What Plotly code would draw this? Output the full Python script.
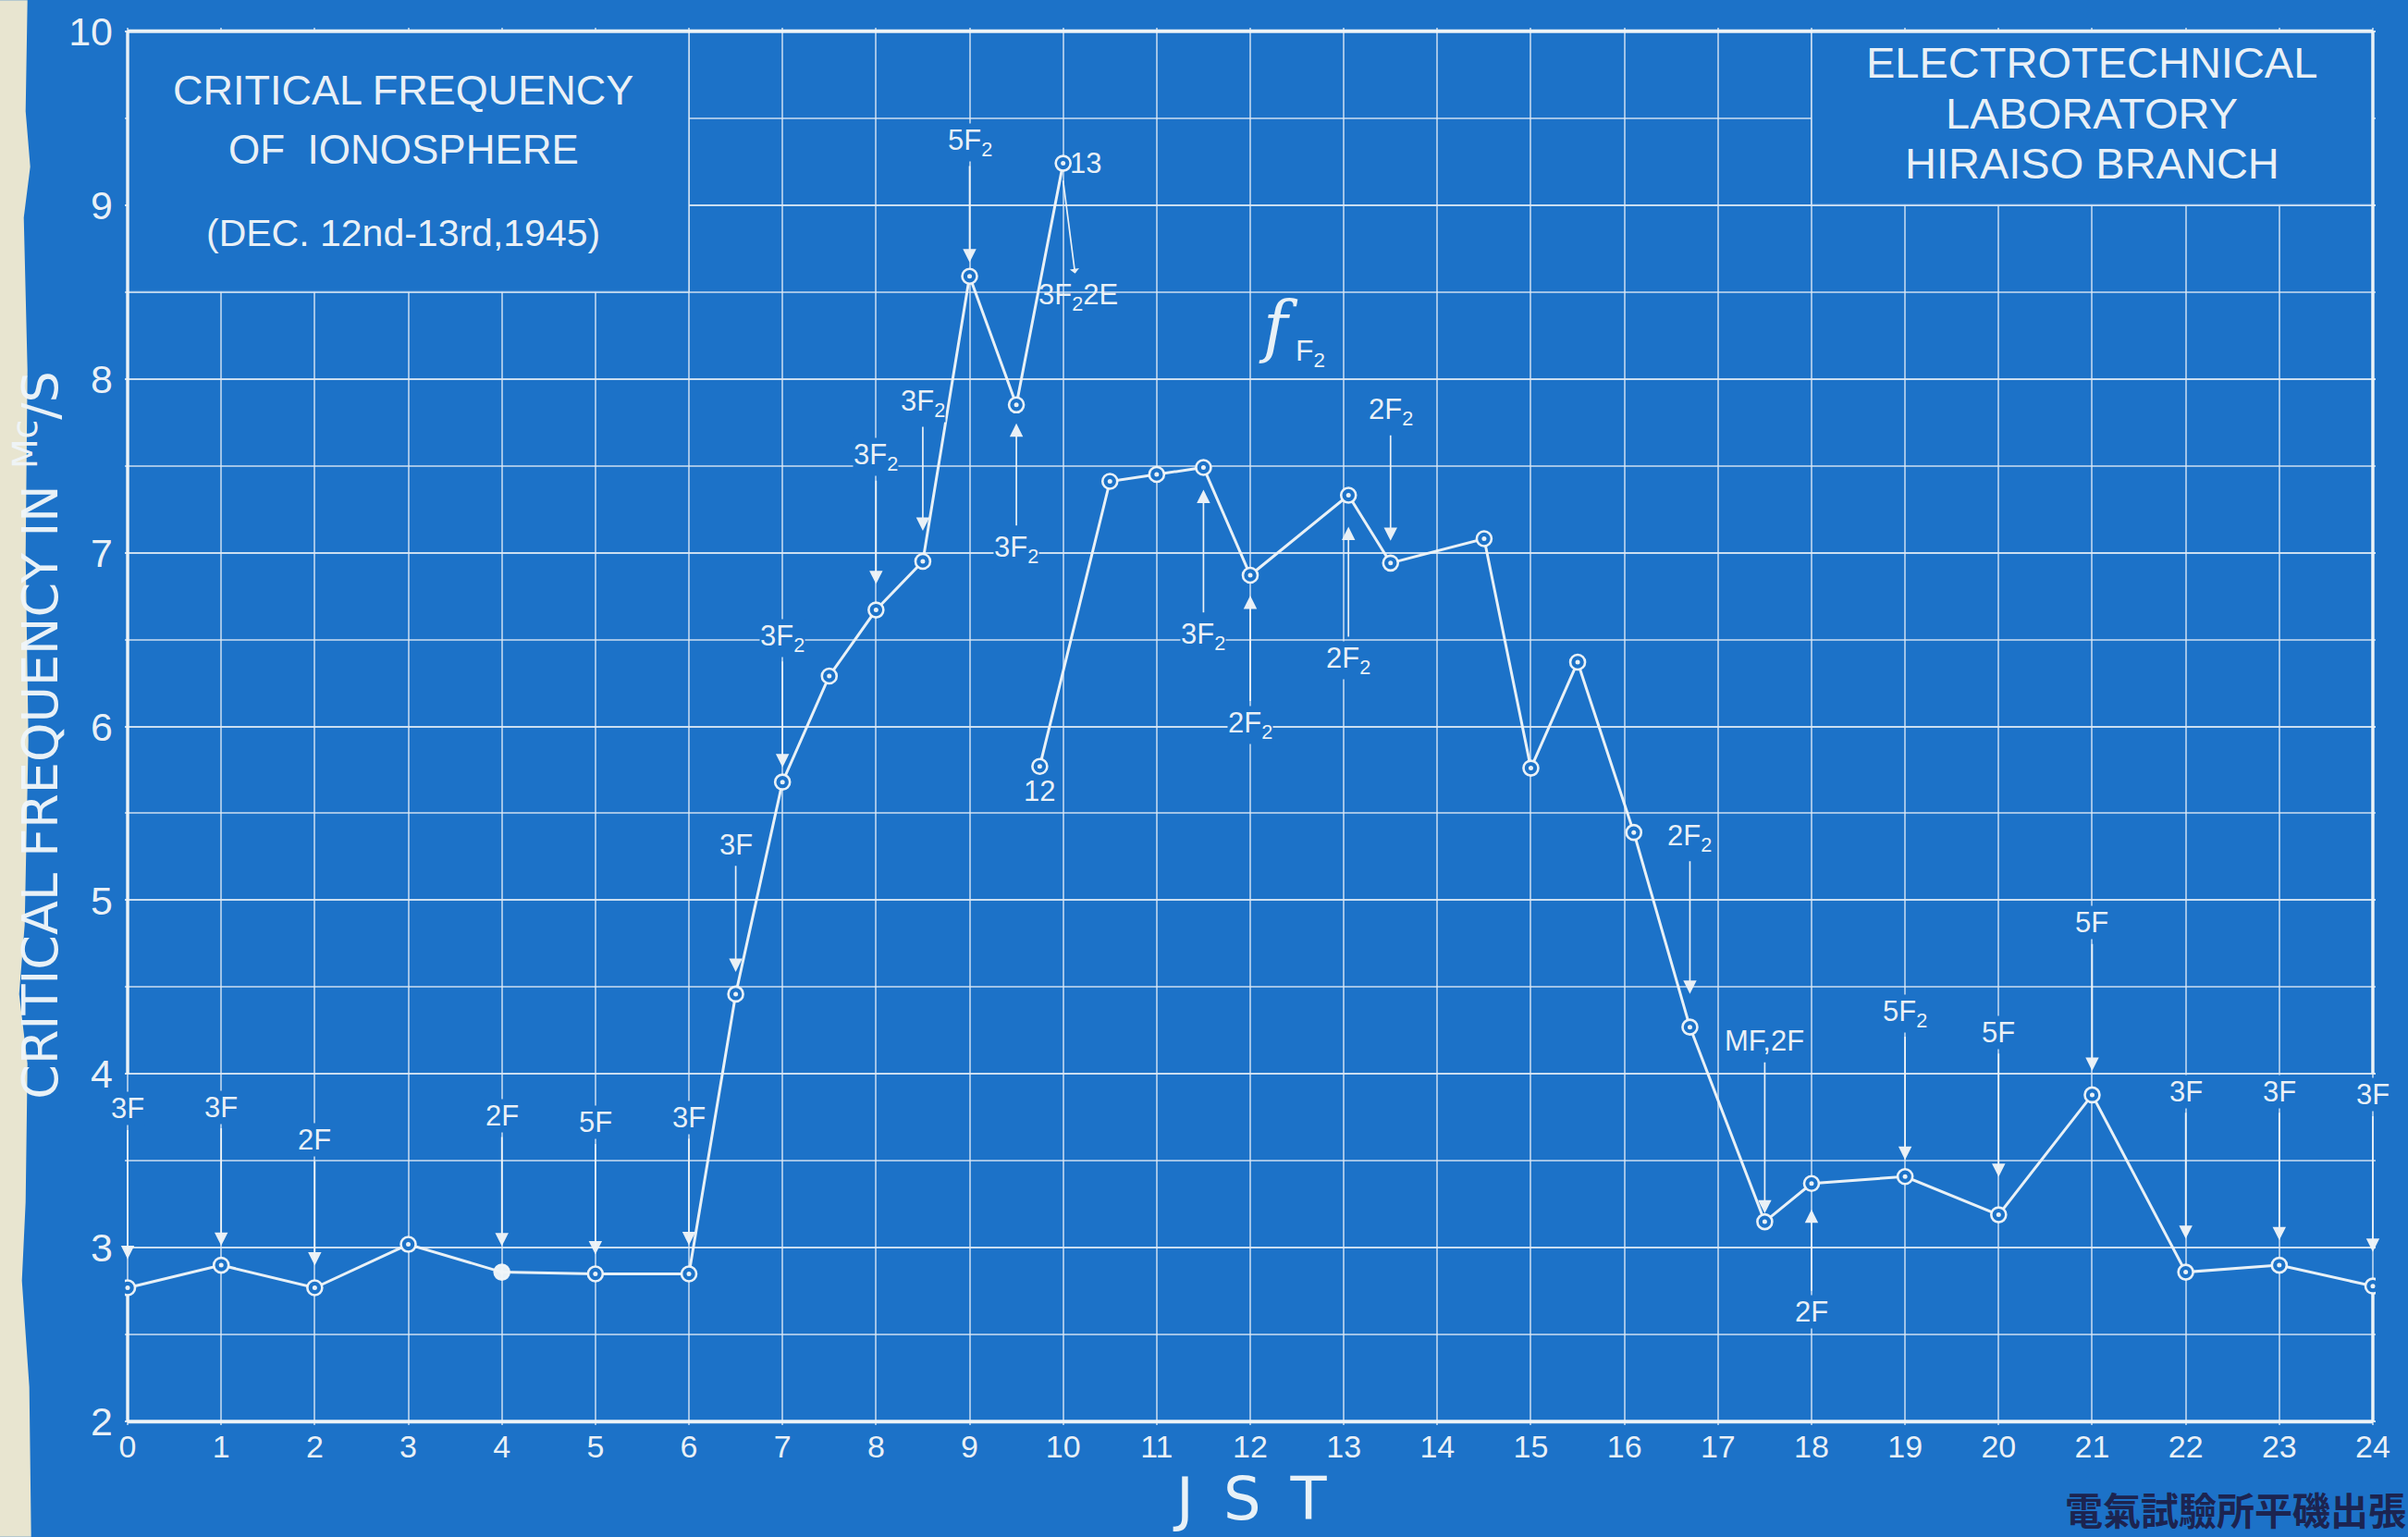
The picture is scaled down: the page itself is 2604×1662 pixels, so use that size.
import plotly.graph_objects as go

# ------------------------------------------------------------------ data
# Critical frequency of the F2 layer (Mc/s), Hiraiso, 12th December 1945
hours_12 = [0, 1, 2, 3, 4, 5, 6, 6.5, 7, 7.5, 8, 8.5, 9, 9.5, 10]
fof2_12 = [2.77, 2.90, 2.77, 3.02, 2.86, 2.85, 2.85, 4.46, 5.68, 6.29,
           6.67, 6.95, 8.59, 7.85, 9.24]

# 13th December 1945, starting at 09:45 JST
hours_13 = [9.75, 10.5, 11, 11.5, 12, 13.05, 13.5, 14.5, 15, 15.5, 16.1,
            16.7, 17.5, 18, 19, 20, 21, 22, 23, 24]
fof2_13 = [5.77, 7.41, 7.45, 7.49, 6.87, 7.33, 6.94, 7.08, 5.76, 6.37,
           5.39, 4.27, 3.15, 3.37, 3.41, 3.19, 3.88, 2.86, 2.90, 2.78]

# readings drawn as a solid dot instead of a ringed one
solid_hours_12 = [4]

x_ticks = list(range(0, 25))
y_ticks = list(range(2, 11))

# ionogram reading codes: (text, day, point index, label y, head standoff px)
codes = [
    ("3F", 12, 0, 3.80, 31),
    ("3F", 12, 1, 3.81, 21),
    ("2F", 12, 2, 3.62, 24),
    ("2F", 12, 4, 3.76, 28),
    ("5F", 12, 5, 3.72, 21),
    ("3F", 12, 6, 3.75, 31),
    ("3F", 12, 7, 5.32, 24),
    ("3F<sub>2</sub>", 12, 8, 6.51, 16),
    ("3F<sub>2</sub>", 12, 10, 7.55, 28),
    ("3F<sub>2</sub>", 12, 11, 7.86, 33),
    ("5F<sub>2</sub>", 12, 12, 9.36, 15),
    ("3F<sub>2</sub>", 12, 13, 7.02, 20),
    ("3F<sub>2</sub>", 13, 3, 6.52, 24),
    ("2F<sub>2</sub>", 13, 4, 6.01, 22),
    ("2F<sub>2</sub>", 13, 5, 6.38, 34),
    ("2F<sub>2</sub>", 13, 6, 7.81, 24),
    ("2F<sub>2</sub>", 13, 11, 5.36, 36),
    ("MF,2F", 13, 12, 4.19, 9),
    ("2F", 13, 13, 2.63, 28),
    ("5F<sub>2</sub>", 13, 14, 4.35, 18),
    ("5F", 13, 15, 4.24, 41),
    ("5F", 13, 16, 4.87, 26),
    ("3F", 13, 17, 3.90, 36),
    ("3F", 13, 18, 3.90, 27),
    ("3F", 13, 19, 3.88, 37),
]

# ------------------------------------------------------------------ style
W, H = 2604, 1662
BG = "#1c72c8"
INK = "rgba(240,245,248,0.97)"
GRID = "rgba(222,234,246,0.68)"
FRAME = "rgba(240,245,248,0.95)"
LETTER = "Liberation Sans, Arial, sans-serif"
WIDE = "DejaVu Sans, sans-serif"
LABEL_FONT = dict(family=LETTER, size=31, color=INK)

# frame placement on the sheet (pixels)
X0_PX, X24_PX, Y2_PX, Y10_PX = 138.3, 2565.6, 1537.5, 33.5
PADX, PADY = 0.03, 0.02
ux = (X24_PX - X0_PX) / 24
uy = (Y2_PX - Y10_PX) / 8
ML = X0_PX - PADX * ux
MR = W - (X24_PX + PADX * ux)
MT = Y10_PX - PADY * uy
MB = H - (Y2_PX + PADY * uy)
PW, PH = W - ML - MR, H - MT - MB


def paper_x(px):
    return (px - ML) / PW


def paper_y(py):
    return (H - MB - py) / PH


fig = go.Figure()

series = {12: (hours_12, fof2_12), 13: (hours_13, fof2_13)}
for day, (hx, fv) in series.items():
    fills = [INK if (day == 12 and h in solid_hours_12) else BG for h in hx]
    fig.add_trace(go.Scatter(
        x=hx, y=fv, mode="lines+markers",
        line=dict(color=INK, width=3),
        marker=dict(symbol="circle", size=16, color=fills,
                    line=dict(color=INK, width=2.6)),
        showlegend=False, hoverinfo="skip"))
    fig.add_trace(go.Scatter(
        x=hx, y=fv, mode="markers",
        marker=dict(symbol="circle", size=5, color=INK),
        showlegend=False, hoverinfo="skip"))

# ------------------------------------------------------------------ shapes
shapes = [
    # title panels are left free of the grid
    dict(type="rect", x0=0, x1=6, y0=8.5, y1=10, fillcolor=BG, line=dict(width=0)),
    dict(type="rect", x0=18, x1=24, y0=9, y1=10, fillcolor=BG, line=dict(width=0)),
    dict(type="line", x0=6, x1=6, y0=8.5, y1=10, line=dict(color=GRID, width=2)),
    dict(type="line", x0=0, x1=6, y0=8.5, y1=8.5, line=dict(color=GRID, width=2)),
    dict(type="line", x0=18, x1=18, y0=9, y1=10, line=dict(color=GRID, width=2)),
    dict(type="line", x0=18, x1=24, y0=9, y1=9, line=dict(color=GRID, width=2)),
    # frame
    dict(type="line", x0=0, x1=24, y0=10, y1=10, line=dict(color=FRAME, width=4)),
    dict(type="line", x0=0, x1=24, y0=2, y1=2, line=dict(color=FRAME, width=4)),
    dict(type="line", x0=0, x1=0, y0=4, y1=10, line=dict(color=FRAME, width=3.5)),
    dict(type="line", x0=0, x1=0, y0=2, y1=fof2_12[0], line=dict(color=FRAME, width=3.5)),
    dict(type="line", x0=24, x1=24, y0=4, y1=10, line=dict(color=FRAME, width=3.5)),
    dict(type="line", x0=24, x1=24, y0=2, y1=fof2_13[-1], line=dict(color=FRAME, width=3.5)),
]
for s in shapes:
    s.update(xref="x", yref="y", layer="between")

# torn paper margin on the left edge
edge = [(0, 0), (30, 0), (28, 120), (33, 180), (26, 235), (30, 400), (28, 600),
        (31, 800), (27, 1000), (21, 1075), (30, 1150), (28, 1300), (24, 1385),
        (32, 1500), (34, 1662), (0, 1662)]
path = "M " + " L ".join(f"{paper_x(px):.5f},{paper_y(py):.5f}" for px, py in edge) + " Z"
shapes.append(dict(type="path", path=path, xref="paper", yref="paper",
                   fillcolor="#e8e5d0", line=dict(width=0), layer="above"))

# ------------------------------------------------------------------ annotations
ann = []
for text, day, idx, ly, gap in codes:
    hx, fv = series[day]
    px, pv = hx[idx], fv[idx]
    ann.append(dict(x=px, y=pv, ax=px, ay=ly, axref="x", ayref="y",
                    xref="x", yref="y", text=text, showarrow=True,
                    arrowhead=2, arrowsize=1.7, arrowwidth=1.7,
                    arrowcolor=INK, standoff=gap, startstandoff=5,
                    font=LABEL_FONT, bgcolor=BG, borderpad=0))

# reading at 10 JST on the 12th, the arrow points down to its code
ann.append(dict(x=hours_12[-1], y=fof2_12[-1] - 0.10, ax=hours_12[-1] + 0.16,
                ay=8.47, axref="x", ayref="y", xref="x", yref="y",
                text="3F<sub>2</sub>2E", showarrow=True, arrowside="start",
                arrowhead=2, arrowsize=1.7, arrowwidth=1.7, arrowcolor=INK,
                startstandoff=4, font=LABEL_FONT))
ann.append(dict(x=hours_12[-1] + 0.24, y=fof2_12[-1], xref="x", yref="y",
                text="13", showarrow=False, font=LABEL_FONT))
ann.append(dict(x=hours_13[0], y=fof2_13[0] - 0.14, xref="x", yref="y",
                text="12", showarrow=False, font=LABEL_FONT))

# curve name
ann.append(dict(x=12.30, y=8.30, xref="x", yref="y", text="<i>f</i>",
                showarrow=False, font=dict(family="DejaVu Serif, serif", size=72, color=INK)))
ann.append(dict(x=12.64, y=8.15, xref="x", yref="y", text="F<sub>2</sub>",
                showarrow=False, font=dict(family=LETTER, size=32, color=INK)))

# title panels
for txt, yv, fs in [("CRITICAL FREQUENCY", 9.66, 45), ("OF  IONOSPHERE", 9.32, 44),
                    ("(DEC. 12nd-13rd,1945)", 8.84, 41)]:
    ann.append(dict(x=2.95, y=yv, xref="x", yref="y", text=txt, showarrow=False,
                    font=dict(family=LETTER, size=fs, color=INK)))
for txt, yv in [("ELECTROTECHNICAL", 9.82), ("LABORATORY", 9.53),
                ("HIRAISO BRANCH", 9.24)]:
    ann.append(dict(x=21.0, y=yv, xref="x", yref="y", text=txt, showarrow=False,
                    font=dict(family=LETTER, size=47, color=INK)))

# axis titles
ann.append(dict(x=paper_x(41), y=paper_y(795), xref="paper", yref="paper",
                xanchor="center", yanchor="middle",
                text="CRITICAL FREQUENCY IN <sup>Mc</sup>/S", textangle=-90,
                showarrow=False, font=dict(family=WIDE, size=54, color=INK)))
ann.append(dict(x=12, y=paper_y(1621), xref="x", yref="paper",
                xanchor="center", yanchor="middle",
                text="J\u2002S\u2002T", showarrow=False,
                font=dict(family=WIDE, size=64, color=INK)))

# maker's stamp
ann.append(dict(x=paper_x(2604), y=paper_y(1631), xref="paper", yref="paper",
                xanchor="right", yanchor="middle", text="電氣試驗所平磯出張",
                showarrow=False,
                font=dict(family="Noto Sans CJK JP, sans-serif", size=41,
                          color="#1c2450", weight=700)))

fig.update_layout(
    width=W, height=H,
    margin=dict(l=ML, r=MR, t=MT, b=MB, pad=0, autoexpand=False),
    paper_bgcolor=BG, plot_bgcolor=BG,
    shapes=shapes, annotations=ann, showlegend=False,
)
fig.update_xaxes(
    range=[-PADX, 24 + PADX], tickmode="array", tickvals=x_ticks,
    ticktext=[str(v) for v in x_ticks], showgrid=True, gridcolor=GRID,
    gridwidth=1.6, zeroline=False, showline=False, ticks="",
    tickfont=dict(family=LETTER, size=34, color=INK), ticklabelstandoff=0,
    automargin=False, fixedrange=True)
fig.update_yaxes(
    range=[2 - PADY, 10 + PADY], tickmode="array", tickvals=y_ticks,
    ticktext=[str(v) for v in y_ticks], showgrid=True, gridcolor=GRID,
    gridwidth=2, zeroline=False, showline=False, ticks="",
    minor=dict(dtick=0.5, tick0=0, showgrid=True, gridcolor=GRID, gridwidth=2),
    tickfont=dict(family=LETTER, size=43, color=INK), ticklabelstandoff=12,
    automargin=False, fixedrange=True)

fig.write_html("out.html", config={"displayModeBar": False})
